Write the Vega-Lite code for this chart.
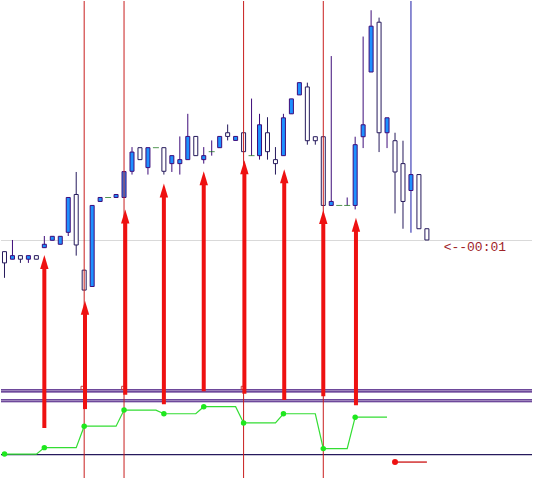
{
  "$schema": "https://vega.github.io/schema/vega-lite/v6.json",
  "width": 533,
  "height": 479,
  "autosize": {"type": "fit", "contains": "padding"},
  "padding": 0,
  "background": "#ffffff",
  "view": {"stroke": null},
  "config": {"scale": {"continuousPadding": 0}},
  "datasets": {
    "candles": [
      {"k": 0, "kind": "white", "top": 227.3, "bot": 216, "hi": 227.3, "lo": 201},
      {"k": 1, "kind": "blue", "top": 223.3, "bot": 219.7, "hi": 239, "lo": 219.7},
      {"k": 2, "kind": "white", "top": 223.3, "bot": 219.7, "hi": 223.3, "lo": 216},
      {"k": 3, "kind": "blue", "top": 223.3, "bot": 219.7, "hi": 223.3, "lo": 216},
      {"k": 4, "kind": "white", "top": 223.3, "bot": 219.7, "hi": 223.3, "lo": 219.7},
      {"k": 5, "kind": "blue", "top": 234.7, "bot": 231.3, "hi": 243, "lo": 231.3},
      {"k": 6, "kind": "blue", "top": 242.7, "bot": 238.7, "hi": 242.7, "lo": 238.7},
      {"k": 7, "kind": "blue", "top": 242.7, "bot": 234.7, "hi": 242.7, "lo": 234.7},
      {"k": 8, "kind": "blue", "top": 281.7, "bot": 246.7, "hi": 281.7, "lo": 243},
      {"k": 9, "kind": "white", "top": 284.7, "bot": 234, "hi": 307.3, "lo": 223.3},
      {"k": 10, "kind": "white", "top": 208.7, "bot": 188.7, "hi": 208.7, "lo": 188.7},
      {"k": 11, "kind": "blue", "top": 273.7, "bot": 192.3, "hi": 273.7, "lo": 192.3},
      {"k": 12, "kind": "blue", "top": 281.7, "bot": 277.7, "hi": 281.7, "lo": 277.7},
      {"k": 13, "kind": "doji", "top": 281.7, "bot": 281.7, "hi": 281.7, "lo": 281.7},
      {"k": 14, "kind": "blue", "top": 284.7, "bot": 281.7, "hi": 284.7, "lo": 281.7},
      {"k": 15, "kind": "blue", "top": 307.7, "bot": 281.7, "hi": 307.7, "lo": 281.7},
      {"k": 16, "kind": "blue", "top": 327.3, "bot": 308, "hi": 332.3, "lo": 304.7},
      {"k": 17, "kind": "white", "top": 331.7, "bot": 319.7, "hi": 331.7, "lo": 319.7},
      {"k": 18, "kind": "blue", "top": 331.7, "bot": 311.7, "hi": 331.7, "lo": 304.7},
      {"k": 19, "kind": "doji", "top": 331.7, "bot": 331.7, "hi": 331.7, "lo": 331.7},
      {"k": 20, "kind": "white", "top": 331.7, "bot": 308, "hi": 331.7, "lo": 304.7},
      {"k": 21, "kind": "blue", "top": 323.7, "bot": 315.7, "hi": 323.7, "lo": 307.3},
      {"k": 22, "kind": "blue", "top": 319.7, "bot": 315.7, "hi": 343, "lo": 304.7},
      {"k": 23, "kind": "blue", "top": 343, "bot": 319.7, "hi": 365.7, "lo": 319.7},
      {"k": 24, "kind": "white", "top": 343, "bot": 323.7, "hi": 343, "lo": 323.7},
      {"k": 25, "kind": "blue", "top": 323.7, "bot": 319.7, "hi": 332.3, "lo": 315.7},
      {"k": 26, "kind": "doji", "top": 327.7, "bot": 327.7, "hi": 339, "lo": 323.7},
      {"k": 27, "kind": "blue", "top": 343, "bot": 331.7, "hi": 343, "lo": 331.7},
      {"k": 28, "kind": "white", "top": 346.7, "bot": 343, "hi": 355, "lo": 339},
      {"k": 29, "kind": "blue", "top": 343, "bot": 339, "hi": 343, "lo": 339},
      {"k": 30, "kind": "white", "top": 346.7, "bot": 327.7, "hi": 346.7, "lo": 327.7},
      {"k": 31, "kind": "doji", "top": 323.7, "bot": 323.7, "hi": 381, "lo": 323.7},
      {"k": 32, "kind": "blue", "top": 354.7, "bot": 323.7, "hi": 365.7, "lo": 319.7},
      {"k": 33, "kind": "white", "top": 346.7, "bot": 327.7, "hi": 362.3, "lo": 319.7},
      {"k": 34, "kind": "white", "top": 319.7, "bot": 315.7, "hi": 332.3, "lo": 304.7},
      {"k": 35, "kind": "blue", "top": 361.7, "bot": 323.7, "hi": 365.7, "lo": 323.7},
      {"k": 36, "kind": "blue", "top": 380.7, "bot": 365.7, "hi": 380.7, "lo": 365.7},
      {"k": 37, "kind": "blue", "top": 397, "bot": 384.7, "hi": 397, "lo": 384.7},
      {"k": 38, "kind": "white", "top": 392.7, "bot": 338.7, "hi": 397, "lo": 334.7},
      {"k": 39, "kind": "white", "top": 342.7, "bot": 338.7, "hi": 342.7, "lo": 334.7},
      {"k": 40, "kind": "white", "top": 342.7, "bot": 273.7, "hi": 342.7, "lo": 273.7},
      {"k": 41, "kind": "blue", "top": 277.7, "bot": 273.7, "hi": 423.7, "lo": 273.7},
      {"k": 42, "kind": "doji", "top": 273.7, "bot": 273.7, "hi": 273.7, "lo": 273.7},
      {"k": 43, "kind": "doji", "top": 273.7, "bot": 273.7, "hi": 281.7, "lo": 273.7},
      {"k": 44, "kind": "blue", "top": 334.7, "bot": 273.7, "hi": 342.7, "lo": 269.7},
      {"k": 45, "kind": "blue", "top": 354.7, "bot": 342.7, "hi": 443.3, "lo": 331.3},
      {"k": 46, "kind": "blue", "top": 453.7, "bot": 407.7, "hi": 469.7, "lo": 407.7},
      {"k": 47, "kind": "white", "top": 457.7, "bot": 346.7, "hi": 462.3, "lo": 327.3},
      {"k": 48, "kind": "blue", "top": 361.7, "bot": 346.7, "hi": 361.7, "lo": 331.3},
      {"k": 49, "kind": "white", "top": 338.7, "bot": 307.3, "hi": 346.7, "lo": 265.7},
      {"k": 50, "kind": "white", "top": 315.7, "bot": 277.7, "hi": 338.7, "lo": 250.3},
      {"k": 51, "kind": "blue", "top": 304.7, "bot": 288.7, "hi": 304.7, "lo": 288.7},
      {"k": 52, "kind": "white", "top": 304.7, "bot": 250.3, "hi": 304.7, "lo": 250.3},
      {"k": 53, "kind": "white", "top": 250.3, "bot": 239, "hi": 250.3, "lo": 239}
    ],
    "signal": [
      {"k": 0, "v": 24, "dot": true},
      {"k": 4, "v": 24, "dot": false},
      {"k": 5, "v": 30.5, "dot": true},
      {"k": 9, "v": 30.5, "dot": false},
      {"k": 10, "v": 52, "dot": true},
      {"k": 14, "v": 52, "dot": false},
      {"k": 15, "v": 68.2, "dot": true},
      {"k": 19, "v": 68.2, "dot": false},
      {"k": 20, "v": 64.5, "dot": true},
      {"k": 24, "v": 64.5, "dot": false},
      {"k": 25, "v": 71.6, "dot": true},
      {"k": 29, "v": 71.6, "dot": false},
      {"k": 30, "v": 55.3, "dot": true},
      {"k": 34, "v": 55.3, "dot": false},
      {"k": 35, "v": 64.5, "dot": true},
      {"k": 39, "v": 64.5, "dot": false},
      {"k": 40, "v": 29.5, "dot": true},
      {"k": 43, "v": 29.5, "dot": false},
      {"k": 44, "v": 61.1, "dot": true},
      {"k": 48, "v": 61.1, "dot": false}
    ],
    "arrows": [
      {"k": 5, "tip": 224, "base": 50.2},
      {"k": 10.1, "tip": 178, "base": 69.2},
      {"k": 15.15, "tip": 269.7, "base": 83.5},
      {"k": 20, "tip": 295.7, "base": 74},
      {"k": 25, "tip": 308, "base": 87},
      {"k": 30.1, "tip": 319, "base": 84.5},
      {"k": 35.1, "tip": 310, "base": 78.4},
      {"k": 40, "tip": 269, "base": 82},
      {"k": 44.1, "tip": 261.3, "base": 73}
    ],
    "levels": [
      {"v": 88.5, "kind": "upper"},
      {"v": 86.5, "kind": "upper"},
      {"v": 78.5, "kind": "upper"},
      {"v": 76.5, "kind": "upper"},
      {"v": 23.5, "kind": "lower"}
    ]
  },
  "layer": [
    {
      "data": {"values": [{"v": 238.5}]},
      "mark": {"type": "rule", "color": "#d9d9d9", "strokeWidth": 1},
      "encoding": {
        "y": {"field": "v", "type": "quantitative", "scale": {"domain": [0, 479], "nice": false, "zero": false, "padding": 0}, "axis": null}
      }
    },
    {
      "data": {"name": "levels"},
      "mark": {"type": "rule", "strokeWidth": 1.1},
      "encoding": {
        "y": {"field": "v", "type": "quantitative", "scale": {"domain": [0, 479], "nice": false, "zero": false, "padding": 0}, "axis": null},
        "stroke": {"field": "kind", "type": "nominal", "scale": {"domain": ["upper", "lower"], "range": ["#3e0c7a", "#261a5c"]}, "legend": null}
      }
    },
    {
      "data": {"values": [{"k": 51, "from": 246.3, "to": 479}]},
      "mark": {"type": "rule", "color": "#1c1ca8", "strokeWidth": 1},
      "encoding": {
        "x": {"field": "k", "type": "quantitative", "scale": {"domain": [-0.4375, 66.1875], "nice": false, "zero": false, "padding": 0}, "axis": null},
        "y": {"field": "from", "type": "quantitative", "scale": {"domain": [0, 479], "nice": false, "zero": false, "padding": 0}, "axis": null},
        "y2": {"field": "to"}
      }
    },
    {
      "data": {"name": "candles"},
      "mark": {"type": "rule", "strokeWidth": 1},
      "encoding": {
        "x": {"field": "k", "type": "quantitative", "scale": {"domain": [-0.4375, 66.1875], "nice": false, "zero": false, "padding": 0}, "axis": null},
        "y": {"field": "hi", "type": "quantitative", "scale": {"domain": [0, 479], "nice": false, "zero": false, "padding": 0}, "axis": null},
        "y2": {"field": "lo"},
        "stroke": {"field": "kind", "type": "nominal", "scale": {"domain": ["blue", "white", "doji"], "range": ["#0a0ab4", "#000000", "#0a6a0a"]}, "legend": null}
      }
    },
    {
      "data": {"name": "candles"},
      "transform": [{"filter": "datum.kind !== 'doji'"}],
      "mark": {"type": "bar", "width": 4, "strokeWidth": 1},
      "encoding": {
        "x": {"field": "k", "type": "quantitative", "scale": {"domain": [-0.4375, 66.1875], "nice": false, "zero": false, "padding": 0}, "axis": null},
        "y": {"field": "top", "type": "quantitative", "scale": {"domain": [0, 479], "nice": false, "zero": false, "padding": 0}, "axis": null},
        "y2": {"field": "bot"},
        "fill": {"field": "kind", "type": "nominal", "scale": {"domain": ["blue", "white"], "range": ["#1e90ff", "#ffffff"]}, "legend": null},
        "stroke": {"field": "kind", "type": "nominal", "scale": {"domain": ["blue", "white", "doji"], "range": ["#0a0ab4", "#000000", "#0a6a0a"]}, "legend": null}
      }
    },
    {
      "data": {"name": "candles"},
      "transform": [{"filter": "datum.kind === 'doji'"}],
      "mark": {"type": "tick", "orient": "horizontal", "size": 6, "thickness": 1, "color": "#0a6a0a"},
      "encoding": {
        "x": {"field": "k", "type": "quantitative", "scale": {"domain": [-0.4375, 66.1875], "nice": false, "zero": false, "padding": 0}, "axis": null},
        "y": {"field": "top", "type": "quantitative", "scale": {"domain": [0, 479], "nice": false, "zero": false, "padding": 0}, "axis": null}
      }
    },
    {
      "data": {"values": [{"k": 10}, {"k": 15}, {"k": 30}, {"k": 40}]},
      "mark": {"type": "rule", "color": "#c81e1e", "strokeWidth": 1},
      "encoding": {
        "x": {"field": "k", "type": "quantitative", "scale": {"domain": [-0.4375, 66.1875], "nice": false, "zero": false, "padding": 0}, "axis": null}
      }
    },
    {
      "data": {"values": [{"k": 55.1, "v": 232.3, "label": "<--00:01"}]},
      "mark": {"type": "text", "align": "left", "baseline": "middle", "font": "Liberation Mono", "fontSize": 13, "color": "#a02428"},
      "encoding": {
        "x": {"field": "k", "type": "quantitative", "scale": {"domain": [-0.4375, 66.1875], "nice": false, "zero": false, "padding": 0}, "axis": null},
        "y": {"field": "v", "type": "quantitative", "scale": {"domain": [0, 479], "nice": false, "zero": false, "padding": 0}, "axis": null},
        "text": {"field": "label"}
      }
    },
    {
      "data": {"name": "signal"},
      "mark": {"type": "line", "color": "#33dd33", "strokeWidth": 1.2},
      "encoding": {
        "x": {"field": "k", "type": "quantitative", "scale": {"domain": [-0.4375, 66.1875], "nice": false, "zero": false, "padding": 0}, "axis": null},
        "y": {"field": "v", "type": "quantitative", "scale": {"domain": [0, 479], "nice": false, "zero": false, "padding": 0}, "axis": null}
      }
    },
    {
      "data": {"name": "signal"},
      "transform": [{"filter": "datum.dot"}],
      "mark": {"type": "point", "filled": true, "shape": "circle", "size": 30, "color": "#1ee81e", "opacity": 1},
      "encoding": {
        "x": {"field": "k", "type": "quantitative", "scale": {"domain": [-0.4375, 66.1875], "nice": false, "zero": false, "padding": 0}, "axis": null},
        "y": {"field": "v", "type": "quantitative", "scale": {"domain": [0, 479], "nice": false, "zero": false, "padding": 0}, "axis": null}
      }
    },
    {
      "data": {"values": [{"k": 9.8, "v": 90.5}, {"k": 14.9, "v": 90.5}, {"k": 29.9, "v": 90.5}]},
      "mark": {"type": "point", "shape": "square", "filled": false, "size": 10, "color": "#c04040", "strokeWidth": 1, "opacity": 1},
      "encoding": {
        "x": {"field": "k", "type": "quantitative", "scale": {"domain": [-0.4375, 66.1875], "nice": false, "zero": false, "padding": 0}, "axis": null},
        "y": {"field": "v", "type": "quantitative", "scale": {"domain": [0, 479], "nice": false, "zero": false, "padding": 0}, "axis": null}
      }
    },
    {
      "data": {"name": "arrows"},
      "mark": {"type": "rule", "color": "#ee1111", "strokeWidth": 4, "y2Offset": 10},
      "encoding": {
        "x": {"field": "k", "type": "quantitative", "scale": {"domain": [-0.4375, 66.1875], "nice": false, "zero": false, "padding": 0}, "axis": null},
        "y": {"field": "base", "type": "quantitative", "scale": {"domain": [0, 479], "nice": false, "zero": false, "padding": 0}, "axis": null},
        "y2": {"field": "tip"}
      }
    },
    {
      "data": {"name": "arrows"},
      "mark": {"type": "point", "filled": true, "shape": "M0,-1L0.6,1L-0.6,1Z", "size": 196, "color": "#ee1111", "opacity": 1, "yOffset": 7},
      "encoding": {
        "x": {"field": "k", "type": "quantitative", "scale": {"domain": [-0.4375, 66.1875], "nice": false, "zero": false, "padding": 0}, "axis": null},
        "y": {"field": "tip", "type": "quantitative", "scale": {"domain": [0, 479], "nice": false, "zero": false, "padding": 0}, "axis": null}
      }
    },
    {
      "data": {"values": [{"k": 49, "v": 16}, {"k": 53, "v": 16}]},
      "mark": {"type": "line", "color": "#cc1111", "strokeWidth": 1.3},
      "encoding": {
        "x": {"field": "k", "type": "quantitative", "scale": {"domain": [-0.4375, 66.1875], "nice": false, "zero": false, "padding": 0}, "axis": null},
        "y": {"field": "v", "type": "quantitative", "scale": {"domain": [0, 479], "nice": false, "zero": false, "padding": 0}, "axis": null}
      }
    },
    {
      "data": {"values": [{"k": 49, "v": 16}]},
      "mark": {"type": "point", "filled": true, "shape": "circle", "size": 36, "color": "#ee1111", "opacity": 1},
      "encoding": {
        "x": {"field": "k", "type": "quantitative", "scale": {"domain": [-0.4375, 66.1875], "nice": false, "zero": false, "padding": 0}, "axis": null},
        "y": {"field": "v", "type": "quantitative", "scale": {"domain": [0, 479], "nice": false, "zero": false, "padding": 0}, "axis": null}
      }
    }
  ]
}
